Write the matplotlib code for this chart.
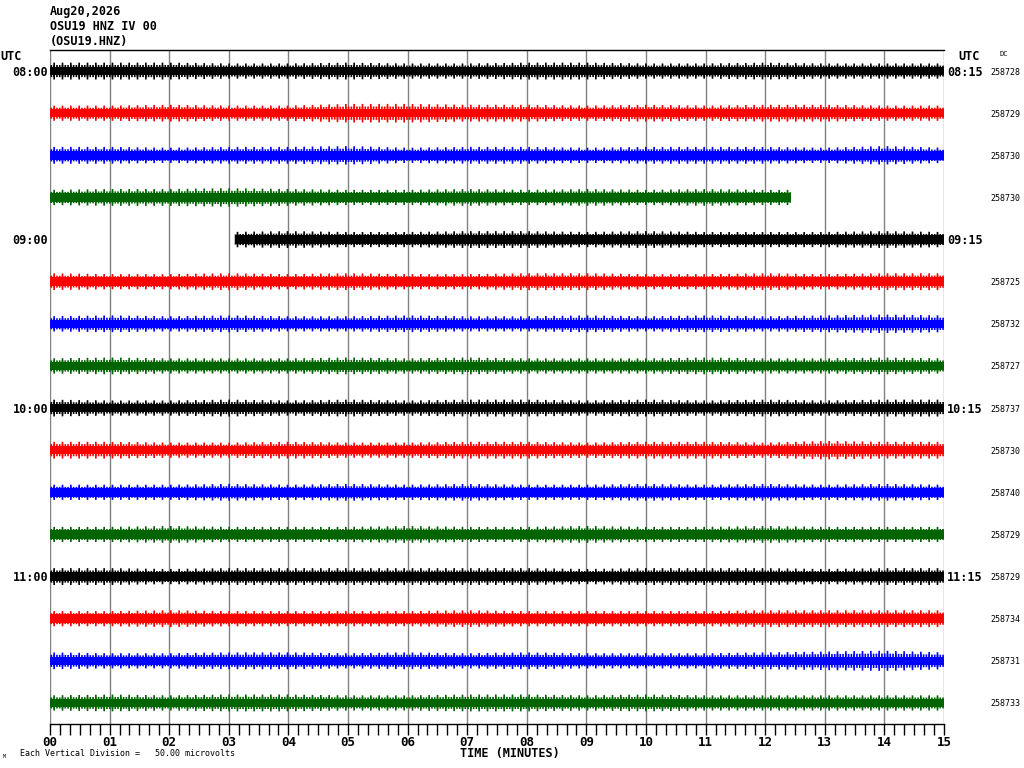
import matplotlib
matplotlib.use("Agg")
import matplotlib.pyplot as plt
import numpy as np

# Helicorder OSU19 HNZ, 4 lines per hour, 15 min per line
plt.rcParams["font.family"] = ["DejaVu Sans Mono"]
plt.rcParams["hatch.linewidth"] = 1.2

header = ["Aug20,2026", "OSU19 HNZ IV 00", "(OSU19.HNZ)"]
left_times = ["08:00", "09:00", "10:00", "11:00"]
right_times = ["08:15", "09:15", "10:15", "11:15"]
dc_values = ["258728", "258729", "258730", "258730", "", "258725", "258732", "258727",
             "258737", "258730", "258740", "258729", "258729", "258734", "258731", "258733"]
trace_colors = ["black", "#ff0000", "#0000ff", "#006400"]
minutes = list(range(16))
tick_labels = ["%02d" % m for m in minutes]

# start / end of each trace in minutes (gaps in the record)
trace_start = [0, 0, 0, 0, 3.1, 0, 0, 0, 0, 0, 0, 0, 0, 0, 0, 0]
trace_end = [15, 15, 15, 12.43, 15, 15, 15, 15, 15, 15, 15, 15, 15, 15, 15, 15]

# noise band (microvolts): solid core and spike peaks at each minute
core_uv = [5.0, 5.0, 5.0, 5.0, 5.0, 5.0, 5.0, 5.0, 5.0, 5.0, 5.0, 5.0, 5.3, 5.0, 5.0, 5.0]
peak_uv = [
    [10, 10, 10, 9, 9, 10, 9, 9, 10, 10, 9, 9, 10, 9, 9, 9],
    [9, 9, 10, 9, 9, 11, 11, 10, 10, 9, 10, 9, 10, 10, 9, 9],
    [10, 10, 9, 10, 10, 11, 9, 10, 10, 9, 10, 10, 10, 9, 11, 9],
    [9, 10, 10, 11, 10, 9, 9, 10, 9, 10, 9, 10, 9, 9, 9, 9],
    [9, 9, 9, 9, 10, 9, 9, 10, 10, 9, 10, 9, 9, 9, 10, 9],
    [10, 9, 9, 10, 9, 10, 9, 9, 10, 10, 9, 9, 10, 9, 10, 10],
    [9, 10, 9, 10, 9, 9, 10, 9, 9, 10, 9, 10, 9, 10, 11, 10],
    [9, 10, 9, 9, 9, 10, 9, 10, 9, 9, 9, 10, 9, 9, 10, 9],
    [10, 9, 9, 10, 9, 10, 9, 10, 10, 9, 10, 9, 10, 9, 10, 10],
    [10, 10, 9, 9, 10, 9, 9, 10, 10, 9, 10, 10, 9, 11, 10, 10],
    [9, 9, 9, 10, 9, 10, 9, 10, 9, 9, 10, 9, 10, 9, 10, 9],
    [9, 9, 10, 9, 9, 9, 10, 9, 9, 10, 9, 9, 10, 9, 9, 9],
    [10, 10, 9, 10, 10, 10, 10, 10, 10, 9, 10, 10, 10, 9, 10, 10],
    [9, 9, 10, 9, 9, 9, 9, 10, 9, 9, 9, 9, 10, 10, 10, 10],
    [10, 9, 9, 10, 10, 9, 10, 9, 10, 9, 9, 9, 10, 11, 12, 10],
    [9, 10, 9, 10, 10, 9, 9, 10, 10, 9, 10, 9, 9, 9, 9, 9],
]
uv_per_line = 50.0

fig = plt.figure(figsize=(10.24, 7.68), dpi=100)
ax = fig.add_axes([50 / 1024, 44 / 768, 894 / 1024, 674 / 768])
ax.set_xlim(0, 15)
ax.set_ylim(16, 0)

for m in minutes:
    ax.axvline(m, color="#808080", lw=1, zorder=1)

row_px = 674 / 16
for i in range(16):
    col = trace_colors[i % 4]
    y0 = i + 0.5
    x = np.array(minutes, dtype=float)
    pk = np.array(peak_uv[i]) / uv_per_line
    mid = pk * 0.72
    core = core_uv[i] / uv_per_line
    keep = (x >= trace_start[i]) & (x <= trace_end[i])
    xs = np.concatenate([[trace_start[i]], x[keep], [trace_end[i]]])
    pks = np.interp(xs, x, pk)
    mids = np.interp(xs, x, mid)
    ax.fill_between(xs, y0 - core, y0 + core, color=col, lw=0, zorder=3)
    ax.fill_between(xs, y0 - mids, y0 + mids, facecolor="none", edgecolor=col,
                    hatch="||||||", lw=0, zorder=2)
    ax.fill_between(xs, y0 - pks, y0 + pks, facecolor="none", edgecolor=col,
                    hatch="||", lw=0, zorder=2)
    if dc_values[i]:
        fig.text(990 / 1024, 1 - (50 + (i + 0.5) * row_px + 1) / 768, dc_values[i],
                 fontsize=6, va="center", ha="left")

# hour labels
for k in range(4):
    yy = 1 - (50 + (4 * k + 0.5) * row_px + 1) / 768
    fig.text(48 / 1024, yy, left_times[k], fontsize=8.5, fontweight="bold",
             ha="right", va="center")
    fig.text(947 / 1024, yy, right_times[k], fontsize=8.5, fontweight="bold",
             ha="left", va="center")

for j, line in enumerate(header):
    fig.text(50 / 1024, 1 - (12 + 15 * j) / 768, line, fontsize=8.5, fontweight="bold",
             va="center", ha="left")
fig.text(0, 1 - 57 / 768, "UTC", fontsize=8.5, fontweight="bold", va="center", ha="left")
fig.text(958 / 1024, 1 - 57 / 768, "UTC", fontsize=8.5, fontweight="bold", va="center", ha="left")
fig.text(1000 / 1024, 1 - 54 / 768, "DC", fontsize=5, va="center", ha="left")

ax.set_xticks(minutes)
ax.set_xticklabels(tick_labels, fontsize=9, fontweight="bold")
ax.set_xticks(np.arange(0, 15.01, 1 / 6), minor=True)
ax.tick_params(axis="x", which="major", length=8, width=1, pad=0.5, colors="black")
ax.tick_params(axis="x", which="minor", length=8, width=1)
ax.set_yticks([])
for side in ["left", "right"]:
    ax.spines[side].set_visible(False)
ax.spines["top"].set_linewidth(1)
ax.spines["bottom"].set_linewidth(1)

fig.text(510 / 1024, 1 - 754 / 768, "TIME (MINUTES)", fontsize=8.5, fontweight="bold",
         ha="center", va="center")
fig.text(20 / 1024, 1 - 754 / 768, "Each Vertical Division =   50.00 microvolts",
         fontsize=6, ha="left", va="center")
fig.text(3 / 1024, 1 - 757 / 768, "M", fontsize=3.5, ha="left", va="center")

fig.savefig("out.png", dpi=100)
